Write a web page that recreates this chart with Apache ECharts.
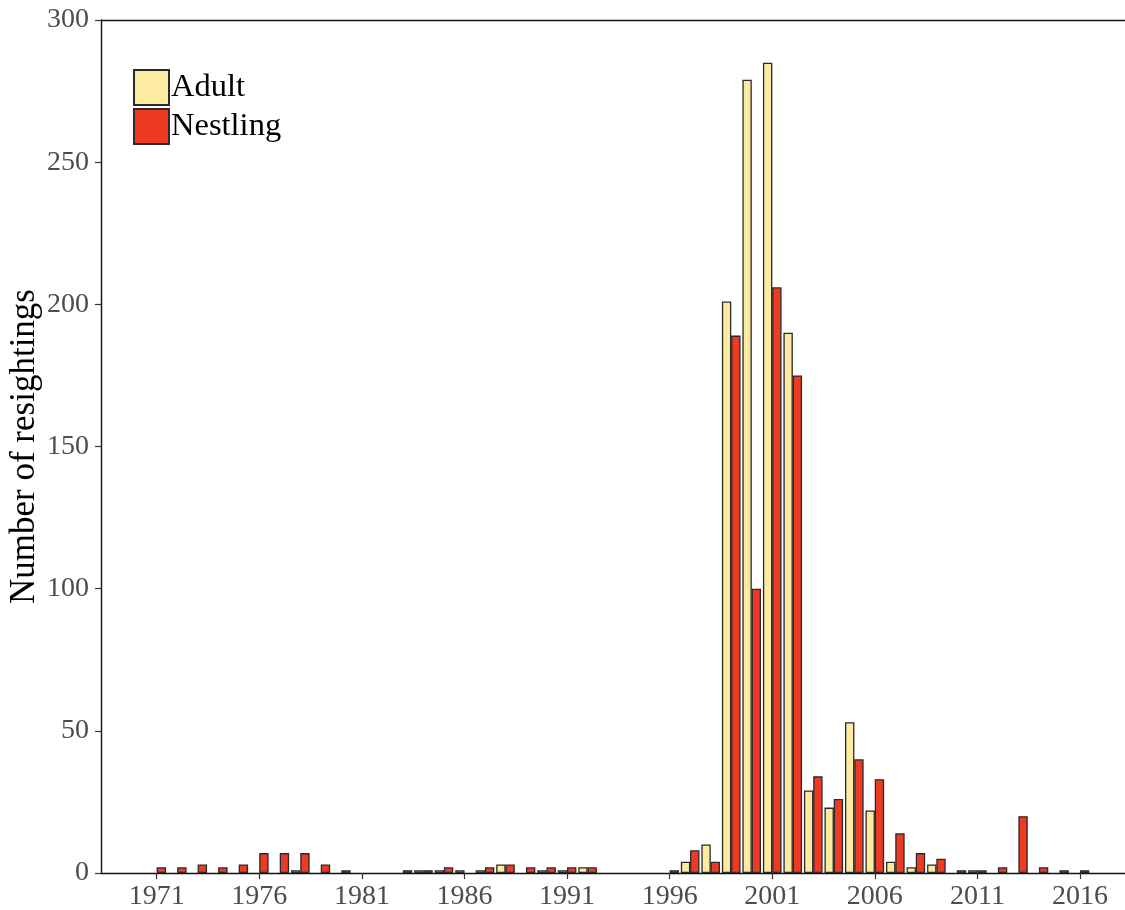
<!DOCTYPE html>
<html>
<head>
<meta charset="utf-8">
<script src="https://cdn.jsdelivr.net/npm/echarts@6/dist/echarts.min.js"></script>
<style>html,body{margin:0;padding:0;background:#fff;}#c{width:1125px;height:910px;}</style>
</head>
<body>
<div id="c"></div>
<script>
const years = [1971,1972,1973,1974,1975,1976,1977,1978,1979,1980,1981,1982,1983,1984,1985,1986,1987,1988,1989,1990,1991,1992,1993,1994,1995,1996,1997,1998,1999,2000,2001,2002,2003,2004,2005,2006,2007,2008,2009,2010,2011,2012,2013,2014,2015,2016];
const adult = [0,0,0,0,0,0,0,1,0,0,0,0,0,1,1,1,1,3,0,1,1,2,0,0,0,0,4,10,201,279,285,190,29,23,53,22,4,2,3,0,1,0,0,0,0,0];
const nestling = [2,2,3,2,3,7,7,7,3,1,0,0,1,1,2,0,2,3,2,2,2,2,0,0,0,1,8,4,189,100,206,175,34,26,40,33,14,7,5,1,1,2,20,2,1,1];
const xTickLabels = [1971,1976,1981,1986,1991,1996,2001,2006,2011,2016];
const yTicks = [0,50,100,150,200,250,300];

const serif = '"Liberation Serif", "DejaVu Serif", serif';
const dodge = 0.225;
function pts(vals, off) {
  const out = [];
  years.forEach((y, i) => { if (vals[i] > 0) out.push([y + off, vals[i]]); });
  return out;
}
const xMin = 1968.285, xMax = 2018.193;
const chart = echarts.init(document.getElementById('c'), null, {renderer: 'canvas'});
chart.setOption({
  animation: false,
  backgroundColor: '#fff',
  grid: {left: 101, right: 0, top: 20, bottom: 37, containLabel: false, outerBoundsMode: 'none'},
  legend: {
    orient: 'vertical', left: 133, top: 69, padding: 0, itemWidth: 35, itemHeight: 35, itemGap: 2,
    icon: 'rect',
    textStyle: {fontFamily: serif, fontSize: 32.5, color: '#000', padding: [0,0,0,-3]},
    data: ['Adult', 'Nestling']
  },
  xAxis: [{
    type: 'value', min: xMin, max: xMax, position: 'bottom',
    splitLine: {show: false},
    axisLine: {show: true, lineStyle: {color: '#111', width: 1.4}},
    axisTick: {show: true, length: 6, customValues: xTickLabels, lineStyle: {color: '#333', width: 1.2}},
    axisLabel: {customValues: xTickLabels, margin: 10, fontFamily: serif, fontSize: 28, color: '#4D4D4D', formatter: v => String(Math.round(v))}
  }, {
    type: 'value', min: xMin, max: xMax, position: 'top',
    splitLine: {show: false},
    axisLine: {show: true, lineStyle: {color: '#111', width: 1.4}},
    axisTick: {show: false}, axisLabel: {show: false}
  }],
  yAxis: {
    type: 'value', min: 0, max: 300, interval: 50,
    name: 'Number of resightings', nameLocation: 'middle', nameGap: 59, nameRotate: 90,
    nameMoveOverlap: false,
    nameTextStyle: {fontFamily: serif, fontSize: 35, color: '#000'},
    splitLine: {show: false},
    axisLine: {show: true, lineStyle: {color: '#111', width: 1.4}},
    axisTick: {show: true, length: 6, lineStyle: {color: '#333', width: 1.2}},
    axisLabel: {margin: 12, fontFamily: serif, fontSize: 28, color: '#4D4D4D', customValues: yTicks}
  },
  series: [{
    name: 'Adult', type: 'bar', xAxisIndex: 0, barWidth: 9.4, barGap: '-100%',
    itemStyle: {color: '#FCEBA0', borderColor: '#2a2a2a', borderWidth: 1.3},
    data: pts(adult, -dodge)
  }, {
    name: 'Nestling', type: 'bar', xAxisIndex: 0, barWidth: 9.4, barGap: '-100%',
    itemStyle: {color: '#EE3A22', borderColor: '#2a2a2a', borderWidth: 1.3},
    data: pts(nestling, dodge)
  }]
});
</script>
</body>
</html>
